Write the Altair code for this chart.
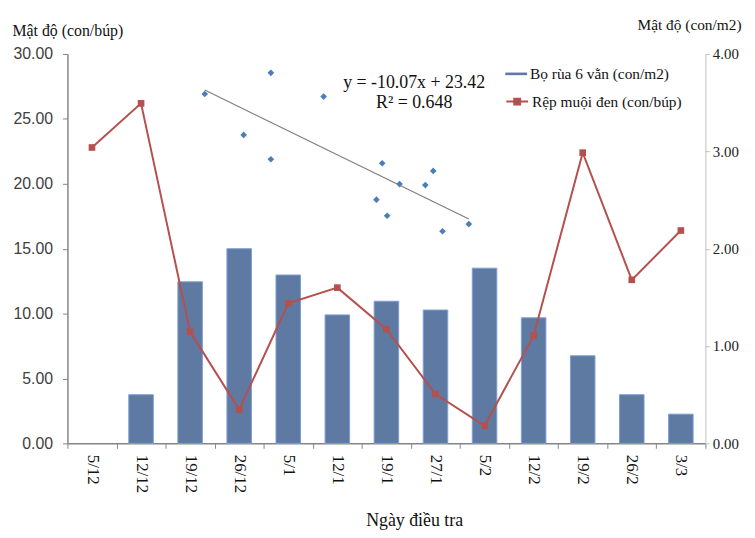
import altair as alt
import pandas as pd

# ---------------- data ----------------
dates = ["5/12", "12/12", "19/12", "26/12", "5/1", "12/1", "19/1",
         "27/1", "5/2", "12/2", "19/2", "26/2", "3/3"]
aphid = [22.8, 26.2, 8.6, 2.6, 10.8, 12.0, 8.8, 3.8, 1.35, 8.3, 22.4, 12.6, 16.4]
ladybird = [0.0, 0.5, 1.66, 2.0, 1.73, 1.32, 1.46, 1.37, 1.80, 1.29, 0.90, 0.50, 0.30]

# scatter used for the regression (ladybird density vs aphid density)
scatter_x = [0.494, 0.871, 1.172, 0.716, 0.871, 1.506, 1.605, 1.797, 1.752,
             1.473, 1.534, 1.850, 2.000]
scatter_y = [18.03, 20.53, 17.72, 13.19, 10.31, 9.84, 7.38, 8.94, 7.26,
             5.54, 3.63, 1.80, 2.65]

series_names = ["Bọ rùa 6 vằn (con/m2)", "Rệp muội đen (con/búp)"]
equation = ["y = -10.07x + 23.42", "R² = 0.648"]
left_title = "Mật độ (con/búp)"
right_title = "Mật độ (con/m2)"
x_title = "Ngày điều tra"

# ---------------- styles ----------------
BLUE = "#5E7AA3"
BLUE_EDGE = "#7E9FD4"
RED = "#B4504D"
DOT = "#4A7EBB"
GRAY = "#868686"
SERIF = "Liberation Serif, Times New Roman, serif"
SANS = "Liberation Sans, Arial, sans-serif"

df = pd.DataFrame({
    "date": dates,
    "aphid": aphid,
    "ladybird": ladybird,
    "bar_series": series_names[0],
    "line_series": series_names[1],
})
sdf = pd.DataFrame({"sx": scatter_x, "sy": scatter_y})

x_scale = alt.Scale(domain=dates, paddingInner=0, paddingOuter=0)
sx_scale = alt.Scale(domain=[-0.289, 3.349], nice=False, zero=False)
sy_scale = alt.Scale(domain=[-23.27, 22.75], nice=False, zero=False)
left_scale = alt.Scale(domain=[0, 30], nice=False)
right_scale = alt.Scale(domain=[0, 4], nice=False)

x_axis = alt.Axis(
    labelAngle=90, labelFont=SERIF, labelFontSize=17, labelColor="#111",
    labelPadding=6, tickBand="extent", tickSize=5, tickColor=GRAY,
    domainColor=GRAY, domainWidth=1.5, grid=False,
    title=x_title, titleFont=SERIF, titleFontSize=18, titleFontWeight="normal",
    titleColor="#111", titleX=350, titleY=83, titleAlign="center",
    titleBaseline="alphabetic", titleAnchor="start",
)
left_axis = alt.Axis(
    orient="left", values=[0, 5, 10, 15, 20, 25, 30], format=".2f",
    labelFont=SANS, labelFontSize=16, labelColor="#404040", labelPadding=10,
    tickSize=5, tickColor=GRAY, domainColor=GRAY, domainWidth=1.5, grid=False,
    title=left_title, titleAngle=0, titleX=-56, titleY=-24, titleAlign="left",
    titleBaseline="middle", titleFont=SERIF, titleFontSize=16,
    titleFontWeight="normal", titleColor="#111",
)
right_axis = alt.Axis(
    orient="right", values=[0, 1, 2, 3, 4], format=".2f",
    labelFont=SERIF, labelFontSize=15, labelColor="#222", labelPadding=3,
    tickSize=4, tickColor="#BFBFBF", domainColor="#BFBFBF", domainWidth=1,
    grid=False, title=right_title, titleAngle=0, titleX=-69, titleY=-30,
    titleAlign="left", titleBaseline="middle", titleFont=SERIF,
    titleFontSize=15.5, titleFontWeight="normal", titleColor="#111",
)

bars = alt.Chart(df).transform_filter("datum.ladybird > 0").mark_bar(
    width=alt.RelativeBandSize(0.5), stroke=BLUE_EDGE, strokeWidth=1
).encode(
    x=alt.X("date:N", sort=dates, scale=x_scale, axis=x_axis),
    y=alt.Y("ladybird:Q", scale=right_scale, axis=right_axis),
    fill=alt.Fill("bar_series:N",
                  scale=alt.Scale(domain=[series_names[0]], range=[BLUE]),
                  legend=alt.Legend(
                      title=None, orient="none", legendX=442, legendY=9,
                      padding=0, symbolType="M-1,-0.12H1V0.12H-1Z",
                      symbolSize=484, symbolStrokeWidth=0, labelFont=SERIF,
                      labelFontSize=15.5, labelColor="#111", labelOffset=3)),
)

line = alt.Chart(df).mark_line(strokeWidth=2).encode(
    x=alt.X("date:N", sort=dates, scale=x_scale, axis=None),
    y=alt.Y("aphid:Q", scale=left_scale, axis=left_axis),
    stroke=alt.Stroke("line_series:N",
                      scale=alt.Scale(domain=[series_names[1]], range=[RED]),
                      legend=alt.Legend(
                          title=None, orient="none", legendX=442, legendY=36,
                          padding=0,
                          symbolType="M-1,0H1M-0.27,-0.27H0.27V0.27H-0.27Z",
                          symbolSize=484, symbolStrokeWidth=2,
                          symbolFillColor=RED, labelFont=SERIF,
                          labelFontSize=15.5, labelColor="#111", labelOffset=3)),
)

markers = alt.Chart(df).mark_point(
    shape="square", filled=True, size=45, color=RED, opacity=1
).encode(
    x=alt.X("date:N", sort=dates, scale=x_scale, axis=None),
    y=alt.Y("aphid:Q", scale=left_scale, axis=None),
)

dots = alt.Chart(sdf).mark_point(
    shape="diamond", filled=True, size=45, color=DOT, opacity=1
).encode(
    x=alt.X("sx:Q", scale=sx_scale, axis=None),
    y=alt.Y("sy:Q", scale=sy_scale, axis=None),
)

trend = alt.Chart(sdf).transform_regression("sx", "sy").mark_line(
    color="#7F7F7F", strokeWidth=1.2
).encode(
    x=alt.X("sx:Q", scale=sx_scale, axis=None),
    y=alt.Y("sy:Q", scale=sy_scale, axis=None),
)

eq1 = alt.Chart(pd.DataFrame({"t": [equation[0]]})).mark_text(
    font=SERIF, fontSize=18, color="#111", align="center", baseline="middle"
).encode(x=alt.value(350), y=alt.value(29), text="t:N")
eq2 = alt.Chart(pd.DataFrame({"t": [equation[1]]})).mark_text(
    font=SERIF, fontSize=18, color="#111", align="center", baseline="middle"
).encode(x=alt.value(350), y=alt.value(49), text="t:N")

chart = alt.layer(bars, line, markers, trend, dots, eq1, eq2).resolve_scale(
    x="independent", y="independent"
).properties(
    width=644, height=393,
    autosize=alt.AutoSizeParams(type="none"),
    padding={"left": 60, "top": 44, "right": 42, "bottom": 88},
    background="white",
).configure_view(stroke=None)

chart.save("out.html", embed_options={"renderer": "svg", "actions": False})
